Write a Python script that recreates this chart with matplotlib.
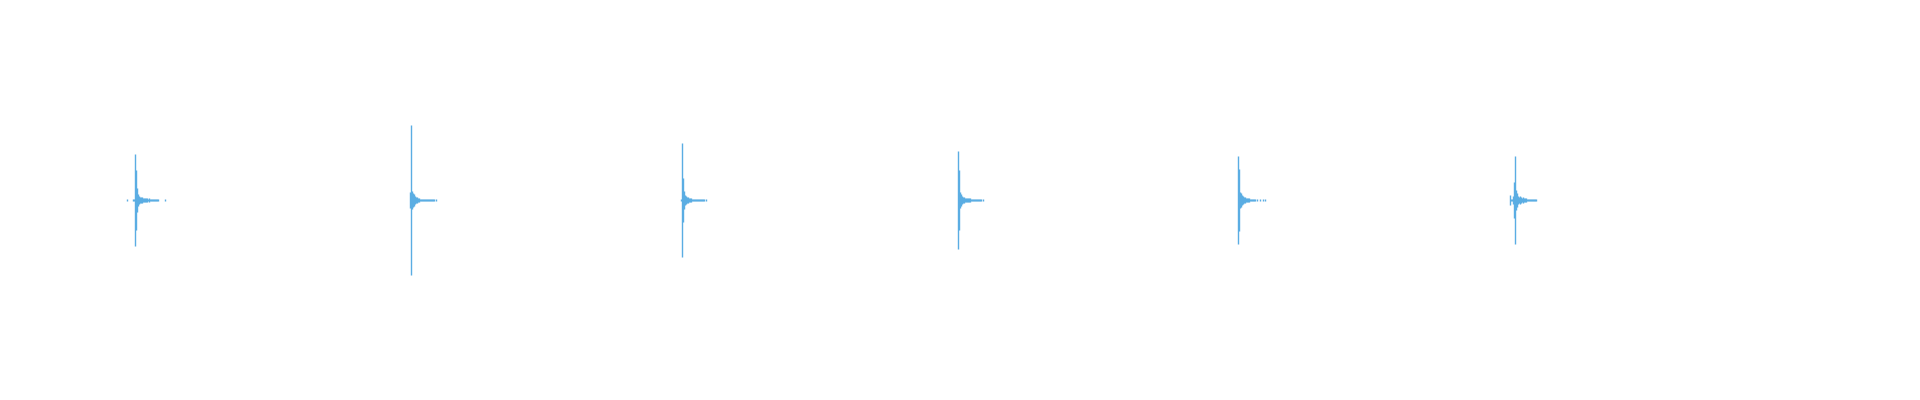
import numpy as np
import matplotlib
matplotlib.use("Agg")
import matplotlib.pyplot as plt

# waveform envelope (sample rate of the drawing = 160 per second)
SR = 160
COLOR = "#5aade3"

# onset sample of each hit
onsets = [134, 410, 681, 957, 1237, 1514]
# offset (in samples) of the first envelope value relative to the onset
starts = [-8, -1, -1, 0, 0, -5]

# peak amplitude per sample (symmetric), 0 = silence
hit1 = [0.004, 0, 0, 0, 0, 0, 0.004, 0.004,
        0.228, 0.148, 0.058, 0.028, 0.018, 0.015, 0.013, 0.015, 0.010, 0.012,
        0.008, 0.010, 0.008, 0.006, 0.008, 0.005, 0.006, 0.005, 0.004, 0.004,
        0.004, 0.004, 0.004, 0.004, 0, 0, 0, 0, 0, 0, 0.004]
hit2 = [0.040, 0.375, 0.045, 0.035, 0.028, 0.020, 0.016, 0.013, 0.011,
        0.009, 0.007, 0.007, 0.006, 0.006, 0.005, 0.005, 0.004, 0.004,
        0.004, 0.004, 0.004, 0.004, 0.004, 0.004, 0.004, 0, 0.004]
hit3 = [0.004, 0.283, 0.112, 0.043, 0.025, 0.020, 0.016, 0.013, 0.011,
        0.009, 0.008, 0.007, 0.006, 0.006, 0.005, 0.005, 0.004, 0.004,
        0.004, 0.004, 0.004, 0.004, 0.004, 0.004, 0, 0.004]
hit4 = [0.245, 0.148, 0.038, 0.030, 0.020, 0.015, 0.014, 0.012, 0.012,
        0.010, 0.009, 0.008, 0.008, 0.007, 0.006, 0.006, 0.005, 0.005,
        0.004, 0.004, 0.004, 0.004, 0.004, 0.004, 0, 0.004]
hit5 = [0.218, 0.155, 0.040, 0.033, 0.023, 0.018, 0.015, 0.013, 0.011,
        0.010, 0.009, 0.008, 0.007, 0.006, 0.006, 0.005, 0.005, 0.004,
        0, 0.004, 0, 0, 0.004, 0, 0, 0.004, 0, 0.004]
hit6 = [0.027, 0.005, 0.005, 0.020, 0.089,
        0.220, 0.048, 0.035, 0.020, 0.016, 0.018, 0.015, 0.012, 0.013,
        0.010, 0.009, 0.008, 0.007, 0.006, 0.006, 0.005, 0.005, 0.004,
        0.004, 0.004, 0.004, 0.004]
hits = [hit1, hit2, hit3, hit4, hit5, hit6]

fig = plt.figure(figsize=(19.2, 4), dpi=100)
ax = fig.add_axes([0, 0, 1, 1])

for onset, start, env in zip(onsets, starts, hits):
    env = np.array(env)
    idx = onset + start + np.arange(len(env))
    keep = env > 0
    t = (idx[keep] + 0.5) / SR
    ax.vlines(t, -env[keep], env[keep], colors=COLOR, linewidth=1.0, snap=True)

ax.set_xlim(0, 1920 / SR)
ax.set_ylim(-1, 1)
ax.axis("off")

fig.savefig("out.png", dpi=100, facecolor="white")
